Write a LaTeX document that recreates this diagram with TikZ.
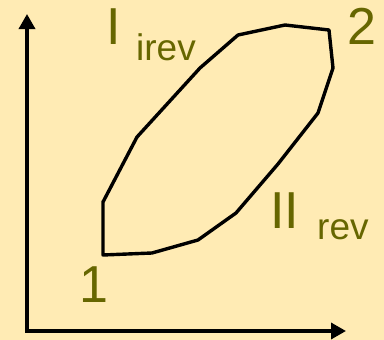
\documentclass[tikz,border=0pt]{standalone}
\usepackage{fontspec}
\setmainfont{Liberation Sans}
\usetikzlibrary{arrows.meta, positioning}
\definecolor{paper}{RGB}{255, 235, 180}
\definecolor{olivetext}{RGB}{102, 102, 0}

\tikzset{
	axisline/.style={line width=3.4pt, -{Triangle[length=15pt, width=16pt]}},
	cycleline/.style={line width=3.4pt, line join=round},
	bigstate/.style={text=olivetext, inner sep=0pt, anchor=base west, font=\fontsize{52}{60}\selectfont},
	substate/.style={text=olivetext, inner sep=0pt, anchor=base west, font=\fontsize{37}{44}\selectfont}
}

\begin{document}
\begin{tikzpicture}[x=1pt, y=-1pt]
		% background and size
		\fill[paper] (0,0) rectangle (384,340);
		\useasboundingbox (0,0) rectangle (384,340);
		
		% axes
		\coordinate (origin) at (27,331);
		\coordinate (ytip) at (27,14);
		\coordinate (xtip) at (346,331);
		\draw[axisline] ([yshift=-1.7pt]origin) -- (ytip);
		\draw[axisline] ([xshift=-1.7pt]origin) -- (xtip);
		
		% states
		\coordinate (s1) at (103,255);
		\coordinate (s2) at (329,30);
		
		% the cycle: I irreversible (upper), II reversible (lower)
		\draw[cycleline] (s1) -- (152,253) -- (198,240) -- (236,213) -- (278,164)
		-- (318,113) -- (333,68) -- (s2) -- (285,25) -- (238,35) -- (200,68)
		-- (137,137) -- (103,202) -- cycle;
		
		% labels
		\node[bigstate] (lblone) at (79,302) {1};
		\node[bigstate] (lbltwo) at (347,45) {2};
		\node[bigstate] (lblI) at (106,45) {I};
		\node[substate] (subI) at (136,60) {irev};
		\node[bigstate] (lblII) at (270,228) {II};
		\node[substate] (subII) at (317,240) {rev};
	\end{tikzpicture}
\end{document}
